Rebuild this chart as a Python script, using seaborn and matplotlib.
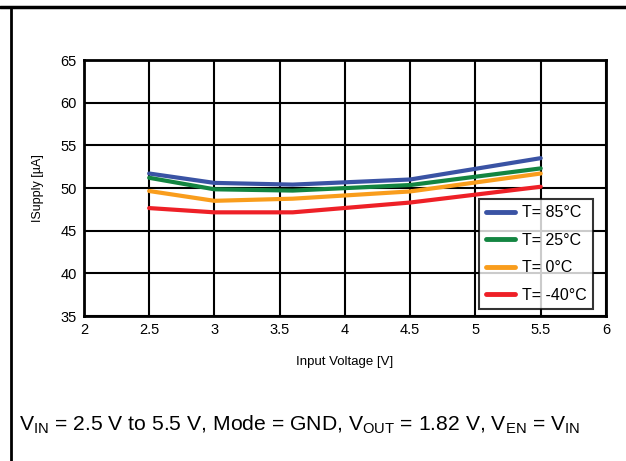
import pandas as pd
import numpy as np
import matplotlib
matplotlib.use("Agg")
import matplotlib.pyplot as plt
import seaborn as sns
from matplotlib.lines import Line2D

vin = [2.5, 3.0, 3.6, 4.5, 5.5]
i_85 = [51.7, 50.6, 50.4, 51.0, 53.5]
i_25 = [51.2, 49.85, 49.7, 50.35, 52.3]
i_0 = [49.65, 48.5, 48.75, 49.6, 51.7]
i_m40 = [47.65, 47.15, 47.15, 48.3, 50.15]
labels = ["T= 85°C", "T= 25°C", "T= 0°C", "T= -40°C"]
colors = ["#3A53A4", "#138541", "#F99D1C", "#EE2027"]

df = pd.concat([
    pd.DataFrame({"Vin": vin, "I": vals, "T": lab})
    for vals, lab in zip([i_85, i_25, i_0, i_m40], labels)
])

sns.set_style("white")
plt.rcParams["font.family"] = ["Liberation Sans", "DejaVu Sans"]
plt.rcParams["mathtext.fontset"] = "custom"
plt.rcParams["mathtext.rm"] = "Liberation Sans"
plt.rcParams["mathtext.it"] = "Liberation Sans"
for key in ["text.color", "axes.labelcolor", "xtick.color", "ytick.color"]:
    plt.rcParams[key] = "black"

fig = plt.figure(figsize=(6.26, 4.61), dpi=100)
ax = fig.add_axes([0.134, 0.3145, 0.834, 0.5553])

sns.lineplot(data=df, x="Vin", y="I", hue="T", palette=colors, linewidth=3,
             ax=ax, sort=False)

ax.set_xlim(2, 6)
ax.set_ylim(35, 65)
ax.set_xticks(np.arange(2, 6.01, 0.5))
ax.set_xticklabels(["2", "2.5", "3", "3.5", "4", "4.5", "5", "5.5", "6"])
ax.set_yticks(np.arange(35, 65.1, 5))
ax.grid(True, color="black", linewidth=1.5)
ax.set_axisbelow(True)
for s in ax.spines.values():
    s.set_color("black")
    s.set_linewidth(2)
ax.tick_params(axis="both", labelsize=10.5, length=0, pad=5)
ax.set_xlabel("Input Voltage [V]", fontsize=9.5, labelpad=14)
ax.set_ylabel("ISupply [µA]", fontsize=9, labelpad=12)

leg = ax.legend(loc="lower right", bbox_to_anchor=(0.975, 0.027), borderaxespad=0,
                fontsize=11.5, frameon=True, fancybox=False, handlelength=1.8,
                borderpad=0.4, labelspacing=0.78, handletextpad=0.45)
leg.get_frame().set_edgecolor("black")
leg.get_frame().set_linewidth(1.5)
for line in leg.get_lines():
    line.set_linewidth(3.5)

fig.text(0.03, 0.078,
         r"V$_{\mathrm{IN}}$ = 2.5 V to 5.5 V, Mode = GND, V$_{\mathrm{OUT}}$ = 1.82 V, V$_{\mathrm{EN}}$ = V$_{\mathrm{IN}}$",
         fontsize=15.2, ha="left", va="center")

fig.add_artist(Line2D([0, 1], [0.985, 0.985], color="black", linewidth=2.5,
                      transform=fig.transFigure))
fig.add_artist(Line2D([0.0176, 0.0176], [0, 0.985], color="black", linewidth=2,
                      transform=fig.transFigure))

fig.savefig("out.png", dpi=100)
